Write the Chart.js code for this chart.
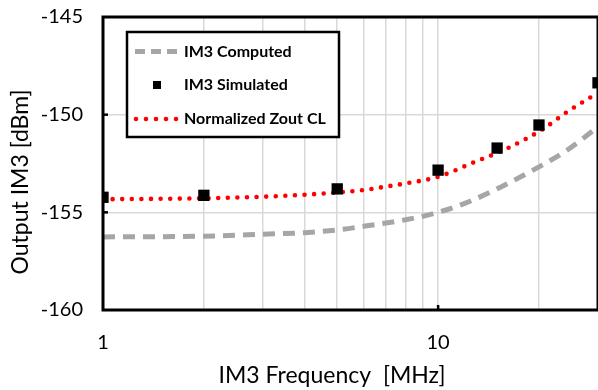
<!DOCTYPE html>
<html><head><meta charset="utf-8">
<script src="https://cdn.jsdelivr.net/npm/chart.js@4/dist/chart.umd.min.js"></script>
<style>html,body{margin:0;padding:0;background:#fff}#wrap{width:598px;height:390px}</style>
</head><body><div id="wrap"><canvas id="c" width="598" height="390"></canvas></div>
<script>
const seriesNames = ['IM3 Computed', 'IM3 Simulated', 'Normalized Zout CL'];
const freqComputed = [1, 2, 3, 4, 5, 6.3, 8, 10, 12.3, 15.4, 20, 24.3, 30];
const valsComputed = [-156.26, -156.22, -156.12, -156.04, -155.9, -155.66, -155.38, -155.0, -154.47, -153.7, -152.67, -151.81, -150.62];
const freqNorm = [1, 2, 3, 4, 5, 6, 7, 8, 10, 12.7, 16.3, 20.7, 24.3, 30];
const valsNorm = [-154.33, -154.28, -154.2, -154.1, -153.98, -153.86, -153.68, -153.52, -153.18, -152.46, -151.68, -150.7, -149.85, -148.88];
const freqSim = [1, 2, 5, 10, 15, 20, 30];
const valsSim = [-154.23, -154.13, -153.80, -152.84, -151.71, -150.53, -148.37];
const xTicks = [1, 2, 3, 4, 5, 6, 7, 8, 9, 10, 20, 30];
const xTickLabels = [1, 10];
const yTicks = [-160, -155, -150, -145];
const xTitle = 'IM3 Frequency  [MHz]';
const yTitle = 'Output IM3 [dBm]';

const FONT = 'Lato, "Liberation Sans", sans-serif';
const pts = (xs, ys) => xs.map((x, i) => ({x, y: ys[i]}));

const decor = {
  id: 'decor',
  afterDatasetsDraw(chart) {
    const {ctx, chartArea: a, scales} = chart;
    ctx.save();
    ctx.strokeStyle = '#000'; ctx.lineWidth = 2.5;
    [-155, -150].forEach(v => {
      const y = scales.y.getPixelForValue(v);
      ctx.beginPath(); ctx.moveTo(a.left, y); ctx.lineTo(a.left + 5, y); ctx.stroke();
    });
    [10].forEach(v => {
      const x = scales.x.getPixelForValue(v);
      ctx.beginPath(); ctx.moveTo(x, a.bottom); ctx.lineTo(x, a.bottom - 5); ctx.stroke();
    });
    ctx.lineWidth = 3;
    ctx.strokeRect(a.left, a.top, a.right - a.left, a.bottom - a.top);
    // legend
    const L = 127, T = 32, R = 339, B = 137;
    ctx.fillStyle = '#fff'; ctx.fillRect(L, T, R - L, B - T);
    ctx.lineWidth = 2.5; ctx.strokeStyle = '#000'; ctx.strokeRect(L, T, R - L, B - T);
    const rows = [51.5, 85, 119];
    ctx.strokeStyle = '#a6a6a6'; ctx.lineWidth = 5; ctx.setLineDash([10, 6]); ctx.lineCap = 'butt';
    ctx.beginPath(); ctx.moveTo(135, rows[0]); ctx.lineTo(181, rows[0]); ctx.stroke();
    ctx.setLineDash([]); ctx.fillStyle = '#000';
    ctx.fillRect(153, rows[1] - 4, 8, 8);
    ctx.fillStyle = '#ff0000';
    for (let i = 0; i < 5; i++) { ctx.beginPath(); ctx.arc(136 + i * 10, rows[2], 2.3, 0, Math.PI * 2); ctx.fill(); }
    ctx.fillStyle = '#000';
    ctx.font = 'bold 16px ' + FONT; ctx.textBaseline = 'middle'; ctx.textAlign = 'left';
    seriesNames.forEach((s, i) => ctx.fillText(s, 184, rows[i]));
    ctx.font = '23px ' + FONT; ctx.textAlign = 'center'; ctx.textBaseline = 'middle';
    ctx.fillText(xTitle, 332, 376);
    ctx.translate(21, 182); ctx.rotate(-Math.PI / 2);
    ctx.fillText(yTitle, 0, 0);
    ctx.restore();
  }
};

new Chart(document.getElementById('c'), {
  type: 'line',
  data: {
    datasets: [
      {label: seriesNames[0], data: pts(freqComputed, valsComputed), borderColor: '#a6a6a6', borderWidth: 5,
       borderDash: [12, 8], pointRadius: 0, cubicInterpolationMode: 'monotone', order: 3},
      {label: seriesNames[2], data: pts(freqNorm, valsNorm), borderColor: '#ff0000', borderWidth: 4.6,
       borderDash: [0, 9.6], borderCapStyle: 'round', pointRadius: 0, cubicInterpolationMode: 'monotone', order: 2},
      {label: seriesNames[1], data: pts(freqSim, valsSim), showLine: false, pointStyle: 'rect', pointRadius: 8,
       pointBackgroundColor: '#000', pointBorderColor: '#000', pointBorderWidth: 0, order: 1}
    ]
  },
  options: {
    animation: false, responsive: false, devicePixelRatio: 1,
    layout: {autoPadding: false, padding: {top: 17, right: -3, left: 0, bottom: 0}},
    plugins: {legend: {display: false}, tooltip: {enabled: false}},
    scales: {
      x: {type: 'logarithmic', min: 1, max: 30,
          afterBuildTicks: (s) => { s.ticks = xTicks.map(v => ({value: v})); },
          grid: {color: '#d9d9d9', lineWidth: 1.5, drawTicks: false},
          border: {display: false},
          ticks: {autoSkip: false, maxRotation: 0, color: '#000', font: {family: FONT, size: 20}, padding: 21,
                  callback: (v) => xTickLabels.includes(v) ? String(v) : ''},
          afterFit: (s) => { s.height = 80; s.paddingLeft = 0; s.paddingRight = 0; }},
      y: {type: 'linear', min: -160, max: -145,
          afterBuildTicks: (s) => { s.ticks = yTicks.map(v => ({value: v})); },
          grid: {color: '#d9d9d9', lineWidth: 1.5, drawTicks: false},
          border: {display: false},
          ticks: {color: '#000', font: {family: FONT, size: 20}, padding: 20},
          afterFit: (s) => { s.width = 103; s.paddingTop = 0; s.paddingBottom = 0; }}
    }
  },
  plugins: [decor]
});
</script></body></html>
